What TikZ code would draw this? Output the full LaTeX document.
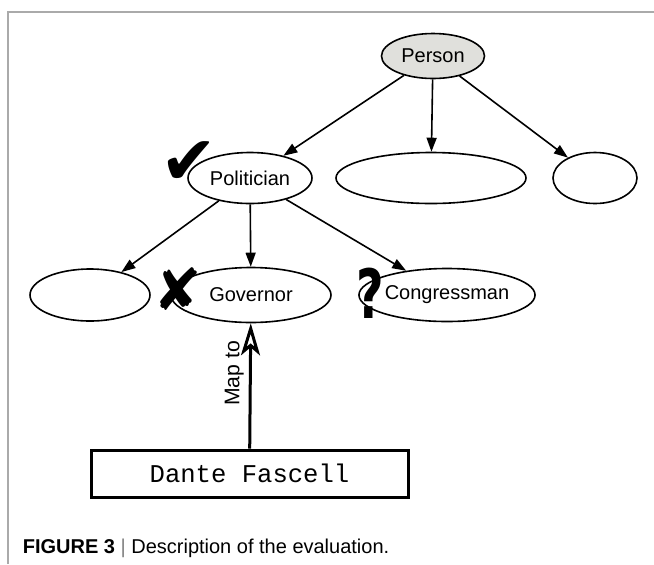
\documentclass[tikz,border=0pt]{standalone}
\usepackage{fontspec}
\setmainfont{Liberation Sans}
\newfontfamily\symfont{DejaVu Sans}
\newfontfamily\monofont{Liberation Mono}
\usetikzlibrary{shapes.geometric,arrows.meta}
\definecolor{personfill}{RGB}{224,224,220}
\definecolor{framegray}{RGB}{170,170,170}
\begin{document}
\begin{tikzpicture}[x=0.5pt, y=-0.5pt, >={Triangle[length=7pt,width=5pt]}, line width=0.8pt,
		every node/.style={font=\fontsize{10}{12}\selectfont},
		class/.style={ellipse, draw, inner sep=0pt, minimum height=25.5pt},
		mapbox/.style={draw, line width=1.5pt, minimum width=158.5pt, minimum height=23.5pt,
			font=\monofont\fontsize{12.8}{14}\selectfont},
		mark sym/.style={inner sep=0pt, font=\symfont\fontsize{34}{34}\selectfont}]
	\useasboundingbox (0,0) rectangle (654,564);
	
	% 边框
	\draw[framegray, line width=0.75pt] (8,564) -- (8,12) -- (654,12);
	
	% 类别节点
	\node[class, fill=personfill, minimum width=51.5pt, minimum height=22.5pt] (person) at (433,56) {Person};
	\node[class, minimum width=62pt] (politician) at (250,178) {Politician};
	\node[class, minimum width=95pt] (blankmid) at (431,178) {};
	\node[class, minimum width=42pt] (blankright) at (595,178) {};
	\node[class, minimum width=60pt, minimum height=26pt] (blankleft) at (90,295) {};
	\node[class, minimum width=80pt, minimum height=27.5pt] (governor) at (251,295) {Governor};
	\node[class, minimum width=85pt, minimum height=26.5pt] (congressman) at (447,295) {Congressman};
	
	% 层次关系
	\draw[->] (person) -- (politician);
	\draw[->] (person) -- (blankmid);
	\draw[->] (person) -- (blankright);
	\draw[->] (politician) -- (blankleft);
	\draw[->] (politician) -- (governor);
	\draw[->] (politician) -- (congressman);
	
	% 实体与映射
	\node[mapbox] (fascell) at (249.5,473.5) {Dante Fascell};
	\draw[-{Stealth[open, fill=white, length=16pt, width=9.5pt, inset=4pt]}, line width=1.5pt] (fascell) -- (governor)
		node[pos=0.6, rotate=90, anchor=south, inner sep=2.5pt, font=\fontsize{10.6}{12}\selectfont] {Map to};
	
	% 评价符号
	\node[mark sym] (okmark) at (189,163) {✔};
	\node[mark sym, font=\symfont\fontsize{29}{29}\selectfont] (wrongmark) at (178,289) {✘};
	\node[mark sym, xscale=0.7, font=\symfont\bfseries\fontsize{34}{34}\selectfont] (unsuremark) at (370,293) {?};
	
	% 图注
	\node[anchor=base west, inner sep=0pt] (caption) at (22,553)
		{\textbf{FIGURE 3} {\color{gray}|} Description of the evaluation.};
\end{tikzpicture}
\end{document}
